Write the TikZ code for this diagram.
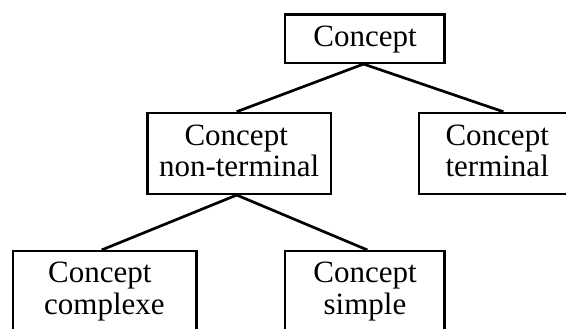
\documentclass[tikz,border=0pt]{standalone}
\usepackage{fontspec}
\setmainfont{Liberation Serif}
\begin{document}
\begin{tikzpicture}[x=1pt,y=1pt,
  box/.style={draw, line width=2.5pt, inner sep=0pt, minimum height=80.8pt, minimum width=183.7pt},
  lbl/.style={inner sep=0pt, align=center, font=\fontsize{31}{30.3}\selectfont},
  conn/.style={line width=2.7pt}]
\useasboundingbox (0,0) rectangle (566,-329);
% boxes
\node[box, minimum width=159.3pt, minimum height=48.2pt] (top) at (364.85,-38.7) {};
\node[box] (nt) at (239.1,-153.4) {};
\node[box, minimum width=157pt] (term) at (497.7,-153.4) {};
\node[box] (cx) at (104.7,-291.6) {};
\node[box, minimum width=159.3pt] (sp) at (364.85,-291.6) {};
% texts
\node[lbl, anchor=base] (ttop) at (365,-46.7) {Concept};
\node[lbl] (tnt) at (239.1,-154.8) {\strut Concept\hspace*{5.8pt}\\\strut non-terminal};
\node[lbl] (tterm) at (497.2,-154.8) {\strut Concept\\\strut terminal};
\node[lbl] (tcx) at (104.4,-292.3) {\strut Concept\hspace*{9pt}\\\strut complexe};
\node[lbl] (tsp) at (365,-292.3) {\strut Concept\\\strut simple};
% connectors
\draw[conn] ([xshift=-1.3pt]top.south) -- ([xshift=-2.5pt]nt.north);
\draw[conn] ([xshift=-1.3pt]top.south) -- ([xshift=5.7pt]term.north);
\draw[conn] ([xshift=-2.4pt]nt.south) -- ([xshift=-3pt]cx.north);
\draw[conn] ([xshift=-2.4pt]nt.south) -- ([xshift=2.5pt]sp.north);
\end{tikzpicture}
\end{document}
